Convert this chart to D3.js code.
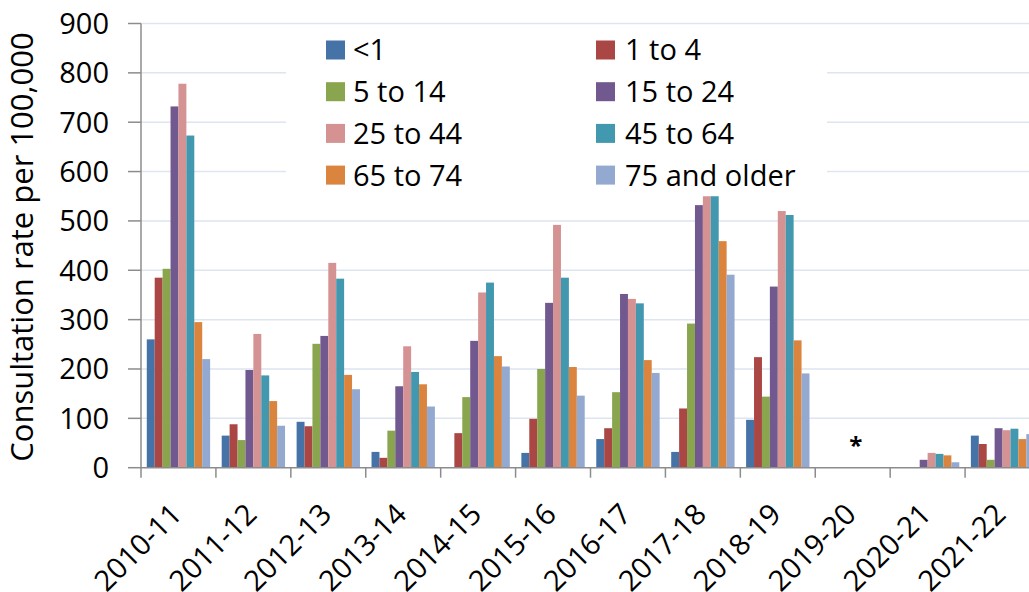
<!DOCTYPE html>
<html>
<head>
<meta charset="utf-8">
<script src="https://cdn.jsdelivr.net/npm/d3@7"></script>
<style>
  html, body { margin: 0; padding: 0; background: #fff; overflow: hidden; }
  svg { display: block; font-family: "Open Sans", "Noto Sans", sans-serif; }
</style>
</head>
<body>
<svg id="chart" width="1029" height="592"></svg>
<script>
// ---- data ----
const years = ["2010-11","2011-12","2012-13","2013-14","2014-15","2015-16","2016-17","2017-18","2018-19","2019-20","2020-21","2021-22"];
const ageGroups = ["<1","1 to 4","5 to 14","15 to 24","25 to 44","45 to 64","65 to 74","75 and older"];
const under1    = [260, 65, 93, 32,   0,  30,  58,  32,  97, 0,  0, 65];
const age1to4   = [385, 88, 84, 20,  70,  99,  80, 120, 224, 0,  0, 48];
const age5to14  = [403, 56, 251, 75, 143, 200, 153, 292, 144, 0,  1, 16];
const age15to24 = [732, 198, 267, 165, 257, 334, 352, 532, 367, 0, 16, 80];
const age25to44 = [778, 271, 415, 246, 355, 492, 342, 550, 520, 0, 30, 76];
const age45to64 = [673, 187, 383, 194, 375, 385, 333, 550, 512, 0, 28, 79];
const age65to74 = [295, 135, 188, 169, 226, 204, 218, 459, 258, 0, 25, 58];
const age75plus = [220, 85, 159, 124, 205, 146, 192, 391, 191, 0, 11, 68];
const yTicks = [0,100,200,300,400,500,600,700,800,900];
const colors = ["#4572A7","#AA4643","#89A54E","#71588F","#D49392","#4198AF","#DB843D","#93A9CF"];
const noteYear = "2019-20";
const noteText = "*";

const seriesValues = [under1, age1to4, age5to14, age15to24, age25to44, age45to64, age65to74, age75plus];

// ---- layout ----
const svg = d3.select("#chart");
const plotLeft = 141, plotBottom = 467.7, plotTop = 23.5, plotRight = 1040;

const x0 = d3.scaleBand().domain(years).range([plotLeft, plotRight]).padding(0);
const x1 = d3.scaleBand().domain(ageGroups).range([0, x0.bandwidth()]).paddingInner(0).paddingOuter(0.73);
const y = d3.scaleLinear().domain([0, 900]).range([plotBottom, plotTop]);
const color = d3.scaleOrdinal().domain(ageGroups).range(colors);

// gridlines
svg.append("g").selectAll("line").data(yTicks.filter(d => d > 0)).join("line")
  .attr("x1", plotLeft).attr("x2", 1029)
  .attr("y1", d => y(d)).attr("y2", d => y(d))
  .attr("stroke", "#dde5f0").attr("stroke-width", 1.5);

// bars
const rows = years.map((yr, i) => ({ year: yr, vals: ageGroups.map((g, k) => ({ g, v: seriesValues[k][i] })) }));
const groups = svg.append("g").selectAll("g").data(rows).join("g")
  .attr("transform", d => `translate(${x0(d.year)},0)`);
groups.selectAll("rect").data(d => d.vals.filter(e => e.v > 0)).join("rect")
  .attr("x", d => x1(d.g))
  .attr("width", x1.bandwidth())
  .attr("y", d => y(d.v))
  .attr("height", d => y(0) - y(d.v))
  .attr("fill", d => color(d.g));

// y axis
const yAxis = svg.append("g");
yAxis.append("line").attr("x1", plotLeft).attr("x2", plotLeft).attr("y1", y(900)).attr("y2", y(0))
  .attr("stroke", "#8c8c8c").attr("stroke-width", 1.5);
yAxis.selectAll(".tk").data(yTicks).join("line")
  .attr("x1", plotLeft - 13).attr("x2", plotLeft).attr("y1", d => y(d)).attr("y2", d => y(d))
  .attr("stroke", "#8c8c8c").attr("stroke-width", 1.5);
yAxis.selectAll("text").data(yTicks).join("text")
  .attr("x", 109).attr("y", d => y(d)).attr("dy", "0.36em")
  .attr("text-anchor", "end").attr("font-size", 29).attr("fill", "#000")
  .text(d => d);

// x axis
const xAxis = svg.append("g");
xAxis.append("line").attr("x1", plotLeft).attr("x2", 1029).attr("y1", y(0)).attr("y2", y(0))
  .attr("stroke", "#8c8c8c").attr("stroke-width", 1.5);
const bounds = years.map(d => x0(d));
xAxis.selectAll(".tk").data(bounds).join("line")
  .attr("x1", d => d).attr("x2", d => d).attr("y1", y(0)).attr("y2", y(0) + 10)
  .attr("stroke", "#8c8c8c").attr("stroke-width", 1.5);
xAxis.selectAll("text").data(years).join("text")
  .attr("transform", d => `translate(${x0(d) + x0.bandwidth() / 2 + 5},516) rotate(-45)`)
  .attr("text-anchor", "end").attr("font-size", 29).attr("fill", "#000")
  .text(d => d);

// note
svg.append("text")
  .attr("x", x0(noteYear) + x0.bandwidth() / 2 + 3).attr("y", y(0) - 14)
  .attr("text-anchor", "middle").attr("font-size", 24).attr("font-weight", "bold").attr("fill", "#000")
  .text(noteText);

// y title
svg.append("text")
  .attr("transform", `translate(33,247) rotate(-90)`)
  .attr("text-anchor", "middle").attr("font-size", 31).attr("fill", "#000")
  .text("Consultation rate per 100,000");

// legend
const legend = svg.append("g");
legend.append("rect").attr("x", 286).attr("y", 26).attr("width", 541).attr("height", 170).attr("fill", "#fff");
const legItems = legend.selectAll("g").data(ageGroups).join("g")
  .attr("transform", (d, i) => `translate(${i % 2 === 0 ? 326 : 596},${50 + Math.floor(i / 2) * 41.7})`);
legItems.append("rect").attr("x", 0).attr("y", -9.5).attr("width", 19).attr("height", 19).attr("fill", d => color(d));
legItems.append("text").attr("x", (d, i) => i % 2 === 0 ? 27 : 29).attr("y", 0).attr("dy", "0.36em")
  .attr("font-size", 29).attr("fill", "#000").text(d => d);
</script>
</body>
</html>
